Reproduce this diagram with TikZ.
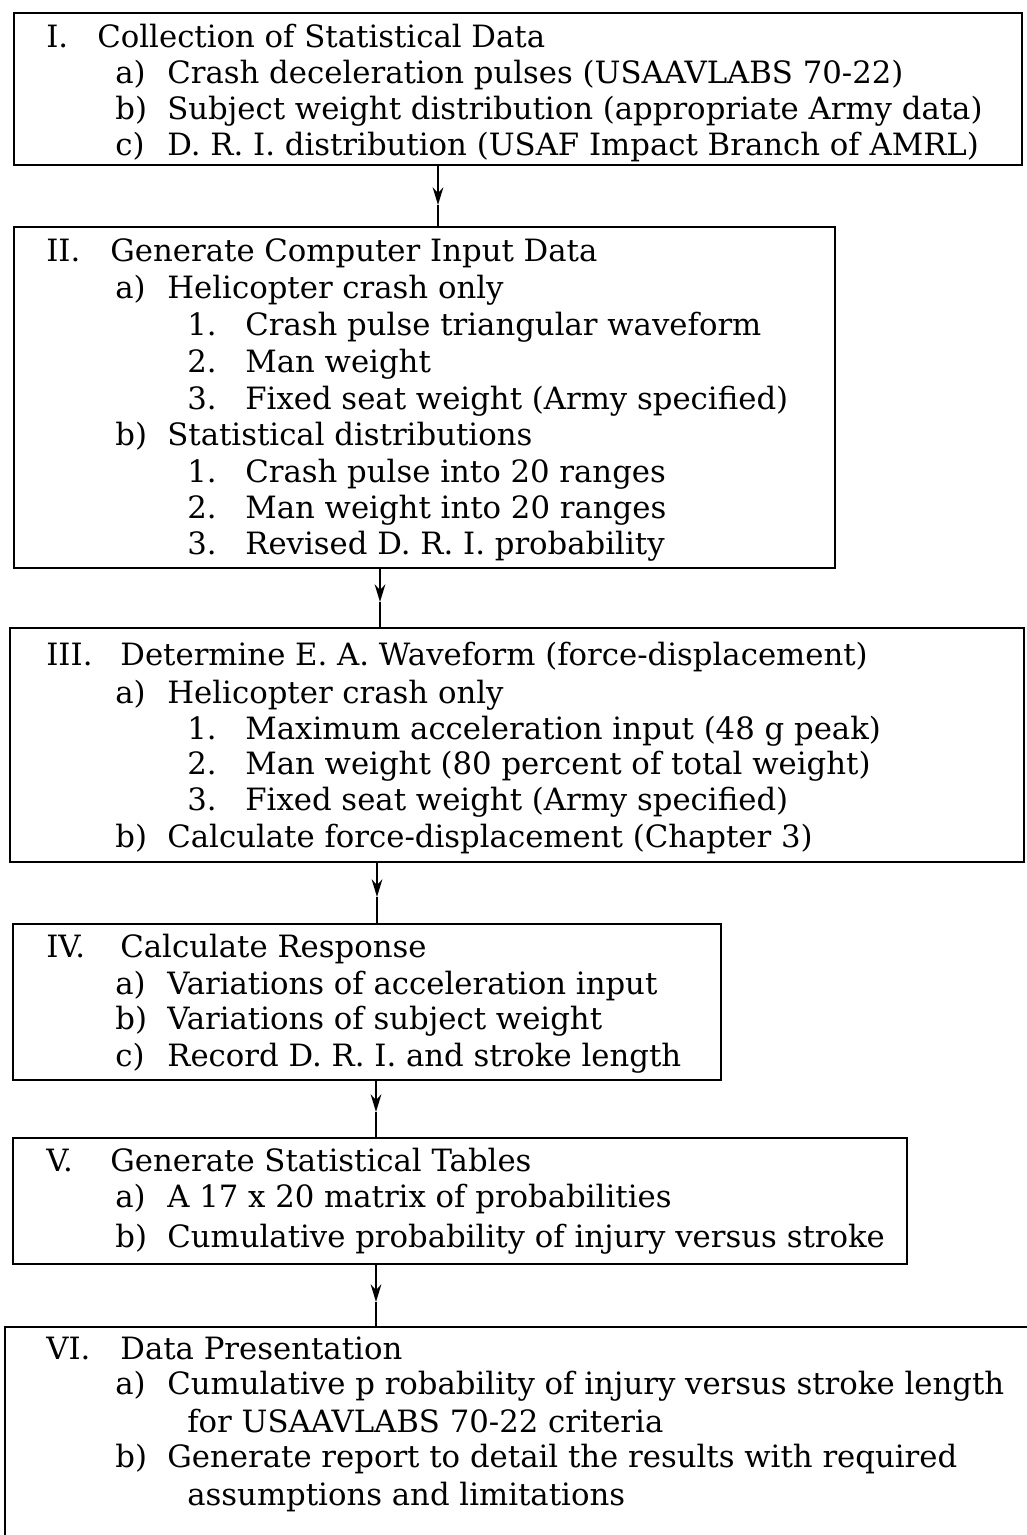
\documentclass[tikz,border=0pt]{standalone}
\usepackage{fontspec}
\setmainfont{DejaVu Serif}
\usetikzlibrary{fit,arrows.meta}

\tikzset{
  box/.style={draw, line width=1.4pt, inner sep=0pt},
  txt/.style={anchor=west, inner sep=0pt, text height=12pt, text depth=3pt,
              font=\fontsize{17.5}{20}\selectfont},
  flow/.style={line width=1.6pt},
  head/.style={-{Stealth[length=10pt,width=6pt]}}
}

\begin{document}
\begin{tikzpicture}[x=0.02cm, y=-0.02cm]
    \useasboundingbox (0,0) rectangle (1027,1535);

    % boxes
    \node[box, fit={(14,13) (1022,165)}] (one) {};
    \node[box, fit={(14,227) (835,568)}] (two) {};
    \node[box, fit={(10,628) (1024,862)}] (three) {};
    \node[box, fit={(13,924) (721,1080)}] (four) {};
    \node[box, fit={(13,1138) (907,1264)}] (five) {};
    \node[box, fit={(5,1327) (1060,1580)}] (six) {};

    % I
    \node[txt] (n1)   at (46,40)  {I.};
    \node[txt] (t1)   at (97,40)  {Collection of Statistical Data};
    \node[txt] (n1a)  at (115,76) {a)};
    \node[txt] (t1a)  at (167,76) {Crash deceleration pulses (USAAVLABS 70-22)};
    \node[txt] (n1b)  at (115,112) {b)};
    \node[txt] (t1b)  at (167,112) {Subject weight distribution (appropriate Army data)};
    \node[txt] (n1c)  at (115,148) {c)};
    \node[txt] (t1c)  at (167,148) {D. R. I. distribution (USAF Impact Branch of AMRL)};

    % II
    \node[txt] (n2)    at (46,254)  {II.};
    \node[txt] (t2)    at (110,254) {Generate Computer Input Data};
    \node[txt] (n2a)   at (115,291) {a)};
    \node[txt] (t2a)   at (167,291) {Helicopter crash only};
    \node[txt] (n2a1)  at (187,328) {1.};
    \node[txt] (t2a1)  at (245,328) {Crash pulse triangular waveform};
    \node[txt] (n2a2)  at (187,365) {2.};
    \node[txt] (t2a2)  at (245,365) {Man weight};
    \node[txt] (n2a3)  at (187,402) {3.};
    \node[txt] (t2a3)  at (245,402) {Fixed seat weight (Army specified)};
    \node[txt] (n2b)   at (115,438) {b)};
    \node[txt] (t2b)   at (167,438) {Statistical distributions};
    \node[txt] (n2b1)  at (187,475) {1.};
    \node[txt] (t2b1)  at (245,475) {Crash pulse into 20 ranges};
    \node[txt] (n2b2)  at (187,511) {2.};
    \node[txt] (t2b2)  at (245,511) {Man weight into 20 ranges};
    \node[txt] (n2b3)  at (187,547) {3.};
    \node[txt] (t2b3)  at (245,547) {Revised D. R. I. probability};

    % III
    \node[txt] (n3)    at (46,658)  {III.};
    \node[txt] (t3)    at (120,658) {Determine E. A. Waveform (force-displacement)};
    \node[txt] (n3a)   at (115,696) {a)};
    \node[txt] (t3a)   at (167,696) {Helicopter crash only};
    \node[txt] (n3a1)  at (187,732) {1.};
    \node[txt] (t3a1)  at (245,732) {Maximum acceleration input (48 g peak)};
    \node[txt] (n3a2)  at (187,767) {2.};
    \node[txt] (t3a2)  at (245,767) {Man weight (80 percent of total weight)};
    \node[txt] (n3a3)  at (187,803) {3.};
    \node[txt] (t3a3)  at (245,803) {Fixed seat weight (Army specified)};
    \node[txt] (n3b)   at (115,840) {b)};
    \node[txt] (t3b)   at (167,840) {Calculate force-displacement (Chapter 3)};

    % IV
    \node[txt] (n4)    at (46,950)   {IV.};
    \node[txt] (t4)    at (120,950)  {Calculate Response};
    \node[txt] (n4a)   at (115,987)  {a)};
    \node[txt] (t4a)   at (167,987)  {Variations of acceleration input};
    \node[txt] (n4b)   at (115,1022) {b)};
    \node[txt] (t4b)   at (167,1022) {Variations of subject weight};
    \node[txt] (n4c)   at (115,1059) {c)};
    \node[txt] (t4c)   at (167,1059) {Record D. R. I. and stroke length};

    % V
    \node[txt] (n5)    at (46,1164)  {V.};
    \node[txt] (t5)    at (110,1164) {Generate Statistical Tables};
    \node[txt] (n5a)   at (115,1200) {a)};
    \node[txt] (t5a)   at (167,1200) {A 17 x 20 matrix of probabilities};
    \node[txt] (n5b)   at (115,1240) {b)};
    \node[txt] (t5b)   at (167,1240) {Cumulative probability of injury versus stroke};

    % VI
    \node[txt] (n6)    at (46,1352)  {VI.};
    \node[txt] (t6)    at (120,1352) {Data Presentation};
    \node[txt] (n6a)   at (115,1387) {a)};
    \node[txt] (t6a)   at (167,1387) {Cumulative p robability of injury versus stroke length};
    \node[txt] (t6a2)  at (187,1425) {for USAAVLABS 70-22 criteria};
    \node[txt] (n6b)   at (115,1460) {b)};
    \node[txt] (t6b)   at (167,1460) {Generate report to detail the results with required};
    \node[txt] (t6b2)  at (187,1498) {assumptions and limitations};

    % connectors, head part way down
    \coordinate (h1) at (438,205);
    \coordinate (h2) at (380,602);
    \coordinate (h3) at (377,897);
    \coordinate (h4) at (376,1112);
    \coordinate (h5) at (376,1302);
    \draw[flow, head] (one.south -| h1) -- (h1);
    \draw[flow] (h1) -- (two.north -| h1);
    \draw[flow, head] (two.south -| h2) -- (h2);
    \draw[flow] (h2) -- (three.north -| h2);
    \draw[flow, head] (three.south -| h3) -- (h3);
    \draw[flow] (h3) -- (four.north -| h3);
    \draw[flow, head] (four.south -| h4) -- (h4);
    \draw[flow] (h4) -- (five.north -| h4);
    \draw[flow, head] (five.south -| h5) -- (h5);
    \draw[flow] (h5) -- (six.north -| h5);
\end{tikzpicture}
\end{document}
